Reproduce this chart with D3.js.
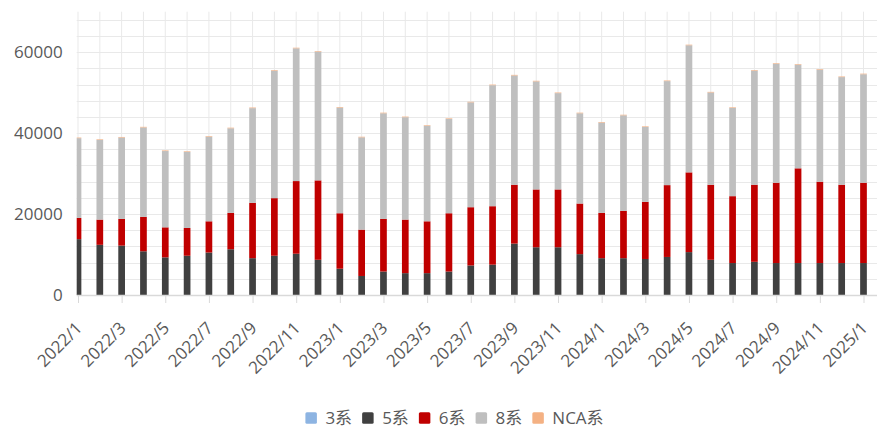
<!DOCTYPE html>
<html>
<head>
<meta charset="utf-8">
<script src="https://cdn.jsdelivr.net/npm/d3@7/dist/d3.min.js"></script>
<style>
  html, body { margin: 0; padding: 0; background: #ffffff; }
  svg { display: block; }
  text { font-family: "Open Sans", "Noto Sans CJK SC", sans-serif; fill: #595959; }
</style>
</head>
<body>
<svg id="chart" width="877" height="428"></svg>
<script>
// Monthly categories, 2022/1 – 2025/1
const months = [
  "2022/1","2022/2","2022/3","2022/4","2022/5","2022/6","2022/7","2022/8","2022/9","2022/10","2022/11","2022/12",
  "2023/1","2023/2","2023/3","2023/4","2023/5","2023/6","2023/7","2023/8","2023/9","2023/10","2023/11","2023/12",
  "2024/1","2024/2","2024/3","2024/4","2024/5","2024/6","2024/7","2024/8","2024/9","2024/10","2024/11","2024/12",
  "2025/1"
];

// Series values per month
const s3 = [0,0,0,0,0,0,0,0,0,0,0,0, 0,0,0,0,0,0,0,0,0,0,0,0, 0,0,0,0,0,0,0,0,0,0,0,0, 0];
const s5 = [13800,12400,12200,10800,9300,9700,10500,11300,9100,9700,10200,8700,
            6500,4700,5800,5400,5400,5800,7300,7500,12700,11800,11800,10100,
            9100,9100,8900,9400,10600,8700,7900,8200,7900,7900,7900,7900,
            7900];
const s6 = [5250,6230,6600,8500,7420,6860,7710,8990,13670,14230,17950,19620,
            13700,11450,13000,13230,12810,14400,14390,14440,14540,14280,14280,12500,
            11190,11690,14120,17750,19700,18540,16520,19040,19840,23400,20090,19340,
            19840];
const s8 = [19700,19700,20100,22100,18850,18800,20900,20900,23400,31500,32800,31800,
            26100,22800,26100,25300,23600,23300,25900,29900,27000,26700,23800,22300,
            22300,23600,18500,25700,31400,22800,21800,28200,29400,25600,27700,26600,
            26800];
const sNCA = [150,150,150,150,150,150,150,150,150,150,150,150,
              150,150,150,150,150,150,150,150,150,150,150,150,
              150,150,150,150,150,150,150,150,150,150,150,150,
              150];

const seriesNames = ["3系", "5系", "6系", "8系", "NCA系"];
const seriesColors = ["#8db4e2", "#404040", "#c00000", "#bfbfbf", "#f4b183"];
const yTicks = [0, 20000, 40000, 60000];
const tickedMonths = months.filter((m, i) => i % 2 === 0);

const rows = months.map((m, i) => ({
  month: m,
  "3系": s3[i], "5系": s5[i], "6系": s6[i], "8系": s8[i], "NCA系": sNCA[i]
}));

const svg = d3.select("#chart");
const plot = { left: 76.7, right: 877, top: 11.7, bottom: 295 };

const x = d3.scalePoint().domain(months).range([78, 863.5]);
const y = d3.scaleLinear().domain([0, 70000]).range([plot.bottom, plot.top]);
const color = d3.scaleOrdinal().domain(seriesNames).range(seriesColors);

svg.append("defs").append("clipPath").attr("id", "plotClip")
  .append("rect")
  .attr("x", plot.left).attr("y", plot.top)
  .attr("width", plot.right - plot.left).attr("height", plot.bottom - plot.top);

// Gridlines: horizontal every 4000, vertical at each month
const grid = svg.append("g").attr("stroke", "#e9e9e9").attr("stroke-width", 1);
grid.selectAll("line.h")
  .data(d3.range(4000, 70000, 4000))
  .join("line").attr("class", "h")
  .attr("x1", plot.left).attr("x2", plot.right)
  .attr("y1", d => Math.round(y(d)) + 0.5).attr("y2", d => Math.round(y(d)) + 0.5);
grid.selectAll("line.v")
  .data(months)
  .join("line").attr("class", "v")
  .attr("x1", d => x(d)).attr("x2", d => x(d))
  .attr("y1", plot.top).attr("y2", plot.bottom);

// Stacked bars
const stacked = d3.stack().keys(seriesNames)(rows);
const barW = 6.7;
svg.append("g").attr("clip-path", "url(#plotClip)")
  .selectAll("g")
  .data(stacked)
  .join("g")
  .attr("fill", d => color(d.key))
  .selectAll("rect")
  .data(d => d)
  .join("rect")
  .attr("x", d => x(d.data.month) - barW / 2)
  .attr("width", barW)
  .attr("y", d => y(d[1]))
  .attr("height", d => Math.max(0, y(d[0]) - y(d[1])));

// X axis
const xAxis = svg.append("g").attr("transform", `translate(0,${plot.bottom})`)
  .call(d3.axisBottom(x).tickValues(tickedMonths).tickSize(8).tickSizeOuter(0).tickFormat(""));
xAxis.select(".domain").remove();
xAxis.selectAll(".tick line").attr("stroke", "#d9d9d9");
svg.append("line")
  .attr("x1", plot.left).attr("x2", plot.right)
  .attr("y1", plot.bottom + 0.5).attr("y2", plot.bottom + 0.5)
  .attr("stroke", "#d9d9d9").attr("stroke-width", 1.3);

svg.append("g").selectAll("text")
  .data(tickedMonths)
  .join("text")
  .attr("transform", d => `translate(${x(d) + 1},325) rotate(-45)`)
  .attr("text-anchor", "end")
  .attr("dy", "0.35em")
  .attr("font-size", 17)
  .text(d => d);

// Y axis labels
const yAxis = svg.append("g").attr("transform", `translate(${plot.left},0)`)
  .call(d3.axisLeft(y).tickValues(yTicks).tickSize(0).tickPadding(14).tickFormat(d3.format("d")));
yAxis.select(".domain").remove();
yAxis.selectAll("text").attr("font-size", 17).style("font-family", "'Open Sans', sans-serif").attr("fill", "#595959");

// Legend
const legend = svg.append("g");
const items = legend.selectAll("g").data(seriesNames).join("g");
items.append("rect")
  .attr("width", 11.5).attr("height", 11.5).attr("y", -5.75).attr("rx", 1.5)
  .attr("fill", d => color(d));
items.append("text")
  .attr("x", 20).attr("dy", "0.35em").attr("font-size", 17)
  .text(d => d);
let cursor = 0;
items.each(function () {
  const g = d3.select(this);
  g.attr("transform", `translate(${cursor},0)`);
  cursor += 20 + g.select("text").node().getComputedTextLength() + 10;
});
const legendW = cursor - 10;
legend.attr("transform", `translate(${454.5 - legendW / 2},418)`);
</script>
</body>
</html>
